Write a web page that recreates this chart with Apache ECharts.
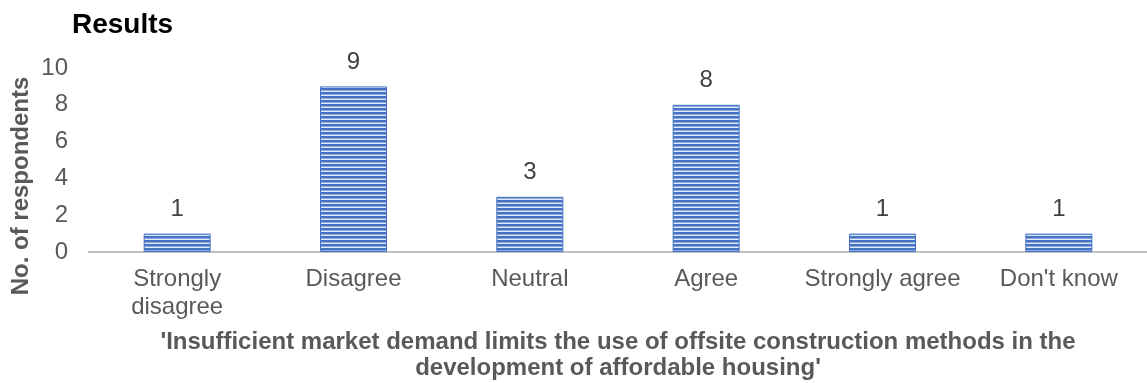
<!DOCTYPE html>
<html><head><meta charset="utf-8">
<script src="https://cdn.jsdelivr.net/npm/echarts@6/dist/echarts.min.js"></script>
<style>html,body{margin:0;padding:0;background:#fff}#c{width:1147px;height:383px}</style>
</head><body><div id="c"></div>
<script>
const categories = ['Strongly\ndisagree', 'Disagree', 'Neutral', 'Agree', 'Strongly agree', "Don't know"];
const values = [1, 9, 3, 8, 1, 1];
const yTicks = [0, 2, 4, 6, 8, 10];
const titleText = 'Results';
const yName = 'No. of respondents';
const xName = "'Insufficient market demand limits the use of offsite construction methods in the\ndevelopment of affordable housing'";

const pc = document.createElement('canvas');
pc.width = 4; pc.height = 4;
const ctx = pc.getContext('2d');
ctx.fillStyle = '#4472c4'; ctx.fillRect(0, 0, 4, 2);
ctx.fillStyle = '#8eaadc'; ctx.fillRect(0, 2, 4, 1);
ctx.fillStyle = '#e2e9f6'; ctx.fillRect(0, 3, 4, 1);

const FF = 'Liberation Sans, Arial, sans-serif';
const chart = echarts.init(document.getElementById('c'));
chart.setOption({
  animation: false,
  title: { text: titleText, left: 67, top: 6, textStyle: { fontFamily: FF, fontWeight: 'bold', fontSize: 28, color: '#000' } },
  grid: { left: 89, right: 0, top: 68, bottom: 131, containLabel: false, outerBoundsMode: 'none' },
  graphic: [{
    type: 'text', x: 21, y: 186, rotation: Math.PI / 2,
    style: { text: yName, font: 'bold 24px ' + FF, fill: '#595959', align: 'center', verticalAlign: 'middle' }
  }],
  xAxis: {
    type: 'category', data: categories,
    axisLine: { lineStyle: { color: '#bfbfbf', width: 2 } },
    axisTick: { show: false },
    axisLabel: { interval: 0, hideOverlap: false, fontFamily: FF, fontSize: 24, color: '#595959', margin: 13, lineHeight: 28 },
    name: xName,
    nameLocation: 'middle', nameGap: 77,
    nameTextStyle: { fontFamily: FF, fontWeight: 'bold', fontSize: 24, color: '#595959', lineHeight: 26 }
  },
  yAxis: {
    type: 'value', min: 0, max: 10, interval: 2,
    splitLine: { show: false },
    axisLine: { show: false }, axisTick: { show: false },
    axisLabel: { fontFamily: FF, fontSize: 24, color: '#595959', margin: 21,
      formatter: v => yTicks.includes(v) ? String(v) : '' }
  },
  series: [{
    type: 'bar', data: values, barWidth: 67,
    itemStyle: { color: { image: pc, repeat: 'repeat' }, borderColor: '#4472c4', borderWidth: 1 },
    label: { show: true, position: 'top', distance: 12, fontFamily: FF, fontSize: 24, color: '#404040' }
  }]
});
</script></body></html>
